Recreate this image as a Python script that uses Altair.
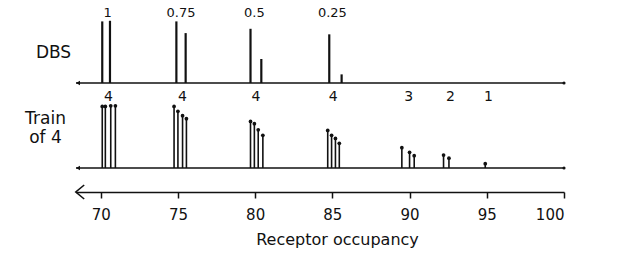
import altair as alt
import pandas as pd

x_min, x_max = 68.4, 100

# DBS panel
dbs_x = [70.1, 70.6, 74.9, 75.5, 79.7, 80.4, 84.8, 85.6]
dbs_h = [1.0, 1.01, 1.0, 0.81, 0.88, 0.39, 0.79, 0.14]
dbs_label_x = [70.45, 75.2, 79.95, 85.0]
dbs_labels = ["1", "0.75", "0.5", "0.25"]

# Train of 4 panel
tof_x = [70.1, 70.3, 70.65, 70.95,
         74.75, 75.0, 75.3, 75.55,
         79.7, 79.95, 80.2, 80.5,
         84.7, 84.95, 85.2, 85.45,
         89.5, 90.0, 90.3,
         92.2, 92.55,
         94.9]
tof_h = [1.0, 1.0, 1.01, 1.01,
         1.0, 0.92, 0.85, 0.80,
         0.755, 0.72, 0.62, 0.53,
         0.61, 0.53, 0.48, 0.40,
         0.33, 0.255, 0.20,
         0.21, 0.16,
         0.07]
tof_label_x = [70.5, 75.3, 80.05, 85.05, 89.95, 92.65, 95.1]
tof_labels = ["4", "4", "4", "4", "3", "2", "1"]

ticks = [70, 75, 80, 85, 90, 95, 100]

INK = "#111111"
FONT = "DejaVu Sans"
W, H = 488, 77

xs = alt.Scale(domain=[x_min, x_max], nice=False, zero=False)
ys = alt.Scale(domain=[0, 1.25], nice=False, zero=True)

dbs_df = pd.DataFrame({"x": dbs_x, "h": dbs_h})
dbs_lab_df = pd.DataFrame({"x": dbs_label_x, "label": dbs_labels})
tof_df = pd.DataFrame({"x": tof_x, "h": tof_h})
tof_lab_df = pd.DataFrame({"x": tof_label_x, "label": tof_labels})
base_df = pd.DataFrame({"x0": [x_min], "x1": [x_max]})


def panel_axis(title, tx, ty):
    return alt.Axis(title=title, domain=False, ticks=False, labels=False, grid=False,
                    titleAngle=0, titleAlign="center", titleBaseline="middle",
                    titleX=tx, titleY=ty, titleFontSize=17, titleFontWeight="normal",
                    titleFont=FONT, titleColor=INK, titleLineHeight=19)


def baseline_layers(ax):
    line = alt.Chart(base_df).mark_rule(color=INK, strokeWidth=1.4).encode(
        x=alt.X("x0:Q", scale=xs, axis=None), x2="x1:Q",
        y=alt.YDatum(0, scale=ys, axis=ax))
    left = alt.Chart(base_df).mark_point(shape="triangle-left", filled=True, size=22,
                                         color=INK, opacity=1, xOffset=2).encode(
        x=alt.X("x0:Q", scale=xs, axis=None), y=alt.YDatum(0, scale=ys, axis=ax))
    right = alt.Chart(base_df).mark_point(shape="circle", filled=True, size=10,
                                          color=INK, opacity=1).encode(
        x=alt.X("x1:Q", scale=xs, axis=None), y=alt.YDatum(0, scale=ys, axis=ax))
    return [line, left, right]


ax_dbs = panel_axis("DBS", -23, 46)
dbs_bars = alt.Chart(dbs_df).mark_rule(color=INK, strokeWidth=2.2).encode(
    x=alt.X("x:Q", scale=xs, axis=None),
    y=alt.Y("h:Q", scale=ys, axis=ax_dbs),
    y2=alt.Y2Datum(0))
dbs_text = alt.Chart(dbs_lab_df).mark_text(font=FONT, fontSize=13, color=INK,
                                           baseline="middle").encode(
    x=alt.X("x:Q", scale=xs, axis=None),
    y=alt.YDatum(1.14, scale=ys, axis=ax_dbs),
    text="label:N")
dbs = alt.layer(*baseline_layers(ax_dbs), dbs_bars, dbs_text).properties(width=W, height=H)

ax_tof = panel_axis(["Train", "of 4"], -31, 27)
tof_bars = alt.Chart(tof_df).mark_rule(color=INK, strokeWidth=1.6).encode(
    x=alt.X("x:Q", scale=xs, axis=None),
    y=alt.Y("h:Q", scale=ys, axis=ax_tof),
    y2=alt.Y2Datum(0))
tof_dots = alt.Chart(tof_df).mark_point(shape="circle", filled=True, size=14,
                                        color=INK, opacity=1).encode(
    x=alt.X("x:Q", scale=xs, axis=None),
    y=alt.Y("h:Q", scale=ys, axis=ax_tof))
tof_text = alt.Chart(tof_lab_df).mark_text(font=FONT, fontSize=14, color=INK,
                                           baseline="middle").encode(
    x=alt.X("x:Q", scale=xs, axis=None),
    y=alt.YDatum(1.15, scale=ys, axis=ax_tof),
    text="label:N")
tof = alt.layer(*baseline_layers(ax_tof), tof_bars, tof_dots, tof_text).properties(width=W, height=H)

axis_panel = alt.Chart(base_df).mark_point(
    shape="M 0.6 -1 L -0.6 0 L 0.6 1", filled=False, size=196, strokeWidth=1.6,
    color=INK, opacity=1, xOffset=4).encode(
    x=alt.X("x0:Q", scale=xs, axis=alt.Axis(
        values=ticks, format="d", grid=False, orient="bottom",
        domainColor=INK, domainWidth=1.6, tickColor=INK, tickWidth=1.5, tickSize=6,
        labelFont=FONT, labelFontSize=15, labelColor=INK, labelPadding=9,
        title="Receptor occupancy", titleFont=FONT, titleFontSize=16,
        titleFontWeight="normal", titleColor=INK, titleX=261, titleY=47,
        titleBaseline="middle", titleAlign="center")),
    y=alt.YDatum(0, scale=alt.Scale(domain=[0, 1]), axis=None)
).properties(width=W, height=17)

chart = alt.vconcat(dbs, tof, axis_panel, spacing=3).properties(
    padding={"left": 24, "top": 5, "right": 5, "bottom": 5},
    background="white"
).configure_view(stroke="transparent")

chart.save("out.html", embed_options={"renderer": "svg", "actions": False})
